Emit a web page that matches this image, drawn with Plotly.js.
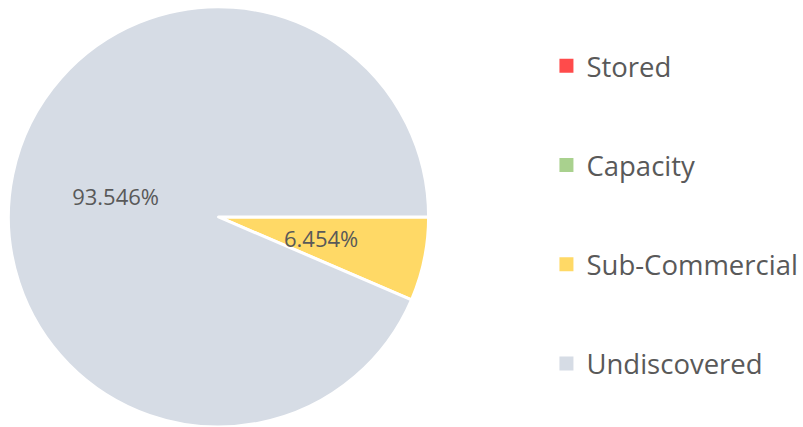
<!DOCTYPE html>
<html>
<head>
<meta charset="utf-8">
<script src="https://cdn.plot.ly/plotly-3.0.1.min.js"></script>
<style>html,body{margin:0;padding:0;background:#fff;}#chart{width:803px;height:427px;}</style>
</head>
<body>
<div id="chart"></div>
<script>
const categories = ['Stored', 'Capacity', 'Sub-Commercial', 'Undiscovered'];
const values = [0, 0, 6.454, 93.546];
const colors = ['#FF4B4B', '#A9D18E', '#FFD966', '#D6DCE5'];

const W = 803, H = 427;
const dom = {x: [0.0087, 0.5355], y: [0, 0.984]};
const textFont = {family: 'Open Sans, sans-serif', size: 22, color: '#595959'};

const total = values.reduce((a, b) => a + b, 0);
// Plotly places the large slice label well; small slices get an annotation at half radius on the bisector
const radiusPx = Math.min((dom.x[1] - dom.x[0]) * W, (dom.y[1] - dom.y[0]) * H) / 2;
const cx = (dom.x[0] + dom.x[1]) / 2, cy = (dom.y[0] + dom.y[1]) / 2;
const annotations = [];
const templates = [];
let cum = 0;
values.forEach((v, i) => {
  const pct = v / total;
  if (v > 0 && pct < 0.2) {
    const mid = (cum + v / 2) / total * 2 * Math.PI; // clockwise from 3 o'clock
    annotations.push({
      xref: 'paper', yref: 'paper',
      x: cx + 0.5 * radiusPx * Math.cos(mid) / W,
      y: cy - 0.5 * radiusPx * Math.sin(mid) / H,
      text: (pct * 100).toFixed(3) + '%',
      showarrow: false,
      font: textFont,
      xanchor: 'center', yanchor: 'middle'
    });
    templates.push('');
  } else {
    templates.push(v > 0 ? '%{percent:.3%}' : '');
  }
  cum += v;
});

const pieTrace = {
  type: 'pie',
  labels: categories,
  values: values,
  sort: false,
  direction: 'clockwise',
  rotation: 90,
  marker: {colors: colors, line: {color: '#ffffff', width: 3}},
  texttemplate: templates,
  textposition: 'inside',
  insidetextorientation: 'horizontal',
  textfont: textFont,
  hoverinfo: 'label+percent',
  showlegend: false,
  domain: dom
};

const legendTraces = categories.map((c, i) => ({
  type: 'scatter',
  mode: 'markers',
  x: [null], y: [null],
  name: c,
  legendgroup: 'g' + i,
  marker: {symbol: 'square', size: 14, color: colors[i]},
  showlegend: true,
  hoverinfo: 'skip'
}));

const layout = {
  width: W, height: H,
  margin: {l: 0, r: 0, t: 0, b: 0, autoexpand: false},
  paper_bgcolor: '#ffffff',
  plot_bgcolor: '#ffffff',
  xaxis: {visible: false},
  yaxis: {visible: false},
  showlegend: true,
  annotations: annotations,
  legend: {
    x: 0.6805, xanchor: 'left',
    y: 0.4965, yanchor: 'middle',
    tracegroupgap: 60.5,
    font: {family: 'Open Sans, sans-serif', size: 27.5, color: '#595959'},
    bgcolor: 'rgba(0,0,0,0)'
  }
};

Plotly.newPlot('chart', [pieTrace].concat(legendTraces), layout, {displayModeBar: false, staticPlot: true});
</script>
</body>
</html>
